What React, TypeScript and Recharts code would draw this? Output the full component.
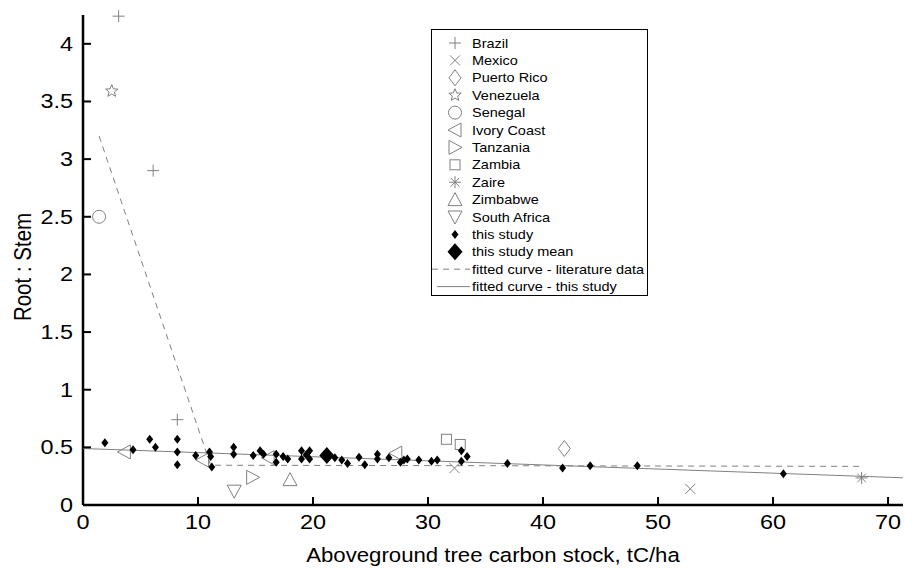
import React from "react";
import { ScatterChart, Scatter, XAxis, YAxis, Legend, Label } from "recharts";

// literature data (root:stem vs aboveground carbon)
const brazil = [
  { x: 3.1, y: 4.24 },
  { x: 6.1, y: 2.9 },
  { x: 8.2, y: 0.74 },
];
const mexico = [
  { x: 32.3, y: 0.32 },
  { x: 52.8, y: 0.14 },
];
const puertoRico = [{ x: 41.85, y: 0.49 }];
const venezuela = [{ x: 2.5, y: 3.59 }];
const senegal = [{ x: 1.4, y: 2.5 }];
const ivoryCoast = [
  { x: 3.6, y: 0.46 },
  { x: 10.4, y: 0.39 },
  { x: 16.1, y: 0.41 },
  { x: 27.2, y: 0.45 },
];
const tanzania = [{ x: 14.75, y: 0.24 }];
const zambia = [
  { x: 31.6, y: 0.57 },
  { x: 32.8, y: 0.525 },
];
const zaire = [{ x: 67.7, y: 0.235 }];
const zimbabwe = [{ x: 18.0, y: 0.22 }];
const southAfrica = [{ x: 13.15, y: 0.12 }];

// this study
const thisStudy = [
  { x: 1.9, y: 0.54 }, { x: 4.35, y: 0.48 }, { x: 5.8, y: 0.57 }, { x: 6.3, y: 0.5 },
  { x: 8.2, y: 0.57 }, { x: 8.2, y: 0.46 }, { x: 8.2, y: 0.35 }, { x: 9.8, y: 0.43 },
  { x: 11.0, y: 0.46 }, { x: 11.1, y: 0.42 }, { x: 11.2, y: 0.33 }, { x: 13.1, y: 0.5 },
  { x: 13.1, y: 0.44 }, { x: 14.8, y: 0.43 }, { x: 15.4, y: 0.47 }, { x: 15.7, y: 0.44 },
  { x: 16.8, y: 0.44 }, { x: 16.8, y: 0.37 }, { x: 17.4, y: 0.42 }, { x: 17.8, y: 0.4 },
  { x: 19.0, y: 0.47 }, { x: 19.7, y: 0.47 }, { x: 19.0, y: 0.4 }, { x: 19.7, y: 0.4 },
  { x: 19.4, y: 0.435 }, { x: 21.9, y: 0.41 }, { x: 22.5, y: 0.39 }, { x: 23.0, y: 0.36 },
  { x: 24.0, y: 0.415 }, { x: 24.5, y: 0.35 }, { x: 25.6, y: 0.44 }, { x: 25.6, y: 0.4 },
  { x: 26.6, y: 0.41 }, { x: 27.6, y: 0.37 }, { x: 27.9, y: 0.39 }, { x: 28.2, y: 0.4 },
  { x: 29.2, y: 0.39 }, { x: 30.3, y: 0.38 }, { x: 30.8, y: 0.39 }, { x: 32.9, y: 0.47 },
  { x: 33.4, y: 0.42 }, { x: 32.9, y: 0.38 }, { x: 36.9, y: 0.36 }, { x: 41.7, y: 0.32 },
  { x: 44.1, y: 0.34 }, { x: 48.2, y: 0.34 }, { x: 60.9, y: 0.27 },
];
const thisStudyMean = [{ x: 21.2, y: 0.43 }];

// fitted curves
const literatureFit = [
  { x: 1.4, y: 3.2 },
  { x: 11.1, y: 0.345 },
  { x: 67.6, y: 0.335 },
];
const studyFit = [
  { x: 0, y: 0.49 },
  { x: 71.3, y: 0.236 },
];

const xTicks = [0, 10, 20, 30, 40, 50, 60, 70];
const yTicks = [0, 0.5, 1, 1.5, 2, 2.5, 3, 3.5, 4];

const GREY = "#808080";
const FONT = "'Liberation Sans', Arial, Helvetica, sans-serif";
const SX = 1.15; // original figure is stretched horizontally
const TICK_SX = 1.2;

const marker = (kind: string, cx: number, cy: number) => {
  const g = { fill: "none", stroke: GREY, strokeWidth: 1 };
  switch (kind) {
    case "plus":
      return <path d={`M${cx - 6},${cy}H${cx + 6}M${cx},${cy - 6}V${cy + 6}`} {...g} />;
    case "cross":
      return <path d={`M${cx - 5},${cy - 5}L${cx + 5},${cy + 5}M${cx - 5},${cy + 5}L${cx + 5},${cy - 5}`} {...g} />;
    case "diamond":
      return <path d={`M${cx},${cy - 8}L${cx + 6},${cy}L${cx},${cy + 8}L${cx - 6},${cy}Z`} {...g} />;
    case "star": {
      const pts: string[] = [];
      for (let i = 0; i < 10; i++) {
        const r = i % 2 === 0 ? 6.5 : 2.8;
        const a = -Math.PI / 2 + (i * Math.PI) / 5;
        pts.push(`${cx + r * Math.cos(a)},${cy + r * Math.sin(a)}`);
      }
      return <polygon points={pts.join(" ")} {...g} />;
    }
    case "circle":
      return <circle cx={cx} cy={cy} r={6.5} {...g} />;
    case "triLeft":
      return <path d={`M${cx - 7},${cy}L${cx + 6},${cy - 7}L${cx + 6},${cy + 7}Z`} {...g} />;
    case "triRight":
      return <path d={`M${cx + 7},${cy}L${cx - 6},${cy - 7}L${cx - 6},${cy + 7}Z`} {...g} />;
    case "square":
      return <rect x={cx - 5} y={cy - 5} width={10} height={10} {...g} />;
    case "asterisk":
      return (
        <path
          d={`M${cx - 6},${cy}H${cx + 6}M${cx},${cy - 6}V${cy + 6}M${cx - 4.3},${cy - 4.3}L${cx + 4.3},${cy + 4.3}M${cx - 4.3},${cy + 4.3}L${cx + 4.3},${cy - 4.3}`}
          {...g}
        />
      );
    case "triUp":
      return <path d={`M${cx},${cy - 7}L${cx + 7},${cy + 6}L${cx - 7},${cy + 6}Z`} {...g} />;
    case "triDown":
      return <path d={`M${cx},${cy + 7}L${cx + 7},${cy - 6}L${cx - 7},${cy - 6}Z`} {...g} />;
    case "dot":
      return <path d={`M${cx},${cy - 4.5}L${cx + 3.5},${cy}L${cx},${cy + 4.5}L${cx - 3.5},${cy}Z`} fill="#000" />;
    case "mean":
      return <path d={`M${cx},${cy - 8.5}L${cx + 7.5},${cy}L${cx},${cy + 8.5}L${cx - 7.5},${cy}Z`} fill="#000" />;
    default:
      return <g />;
  }
};

const series = [
  { name: "Brazil", data: brazil, kind: "plus" },
  { name: "Mexico", data: mexico, kind: "cross" },
  { name: "Puerto Rico", data: puertoRico, kind: "diamond" },
  { name: "Venezuela", data: venezuela, kind: "star" },
  { name: "Senegal", data: senegal, kind: "circle" },
  { name: "Ivory Coast", data: ivoryCoast, kind: "triLeft" },
  { name: "Tanzania", data: tanzania, kind: "triRight" },
  { name: "Zambia", data: zambia, kind: "square" },
  { name: "Zaire", data: zaire, kind: "asterisk" },
  { name: "Zimbabwe", data: zimbabwe, kind: "triUp" },
  { name: "South Africa", data: southAfrica, kind: "triDown" },
  { name: "this study", data: thisStudy, kind: "dot" },
  { name: "this study mean", data: thisStudyMean, kind: "mean" },
];

const lines = [
  { name: "fitted curve - literature data", data: literatureFit, dash: "6 5" },
  { name: "fitted curve - this study", data: studyFit, dash: undefined },
];

const XTick = (props: any) => {
  const { x, y, payload } = props;
  return (
    <g>
      <line x1={x} x2={x} y1={y} y2={y - 8} stroke="#000" strokeWidth={2} />
      <text
        transform={`translate(${x},${y + 24}) scale(${TICK_SX},1)`}
        textAnchor="middle"
        fontFamily={FONT}
        fontSize={19.5}
        fill="#000"
      >
        {payload.value}
      </text>
    </g>
  );
};

const YTick = (props: any) => {
  const { x, y, payload } = props;
  return (
    <g>
      <line x1={x} x2={x + 8} y1={y} y2={y} stroke="#000" strokeWidth={2} />
      <text
        transform={`translate(${x - 10},${y + 7}) scale(${TICK_SX},1)`}
        textAnchor="end"
        fontFamily={FONT}
        fontSize={19.5}
        fill="#000"
      >
        {payload.value}
      </text>
    </g>
  );
};

const LegendBox = () => {
  const rowH = 17.4;
  return (
    <svg width={217} height={267} style={{ display: "block" }}>
      <rect x={0.5} y={0.5} width={216} height={266} fill="#fff" stroke="#000" strokeWidth={1} />
      {series.map((s, i) => {
        const cy = 14 + i * rowH;
        return (
          <g key={s.name}>
            {marker(s.kind, 24, cy)}
            <text
              transform={`translate(41,${cy + 4.5}) scale(${SX},1)`}
              fontFamily={FONT}
              fontSize={12.6}
              fill="#000"
            >
              {s.name}
            </text>
          </g>
        );
      })}
      {lines.map((l, j) => {
        const cy = 14 + (series.length + j) * rowH;
        return (
          <g key={l.name}>
            <line
              x1={l.dash ? 1 : 6}
              x2={39}
              y1={cy}
              y2={cy}
              stroke={GREY}
              strokeWidth={1}
              strokeDasharray={l.dash}
            />
            <text
              transform={`translate(41,${cy + 4.5}) scale(${SX},1)`}
              fontFamily={FONT}
              fontSize={12.6}
              fill="#000"
            >
              {l.name}
            </text>
          </g>
        );
      })}
    </svg>
  );
};

export default function App() {
  return (
    <div style={{ position: "absolute", left: 0, top: 0, background: "#fff" }}>
      <ScatterChart width={905} height={569} margin={{ top: 15, right: 2, bottom: 0, left: 0 }}>
        <XAxis
          type="number"
          dataKey="x"
          domain={[0, 71.3]}
          ticks={xTicks}
          height={64}
          tickSize={0}
          tickMargin={0}
          tickLine={false}
          axisLine={{ stroke: "#000", strokeWidth: 2.5 }}
          tick={(p: any) => <XTick {...p} />}
        >
          <Label
            content={(p: any) => {
              const vb = p.viewBox;
              return (
                <text
                  transform={`translate(${vb.x + vb.width / 2},${vb.y + 57}) scale(${SX},1)`}
                  textAnchor="middle"
                  fontFamily={FONT}
                  fontSize={19.3}
                  fill="#000"
                >
                  Aboveground tree carbon stock, tC/ha
                </text>
              );
            }}
          />
        </XAxis>
        <YAxis
          type="number"
          dataKey="y"
          domain={[0, 4.25]}
          ticks={yTicks}
          width={83}
          tickSize={0}
          tickMargin={0}
          tickLine={false}
          axisLine={{ stroke: "#000", strokeWidth: 2.5 }}
          tick={(p: any) => <YTick {...p} />}
        >
          <Label
            content={() => (
              <text
                transform={`translate(31,267) scale(${SX},1) rotate(-90)`}
                textAnchor="middle"
                fontFamily={FONT}
                fontSize={20.5}
                fill="#000"
              >
                Root : Stem
              </text>
            )}
          />
        </YAxis>
        <Legend
          layout="vertical"
          align="center"
          verticalAlign="middle"
          content={() => <LegendBox />}
          wrapperStyle={{ left: 431, top: 29, width: 217, height: 267 }}
        />
        {lines.map((l) => (
          <Scatter
            key={l.name}
            name={l.name}
            data={l.data}
            line={{ stroke: GREY, strokeWidth: 1, strokeDasharray: l.dash }}
            shape={() => <g />}
            isAnimationActive={false}
          />
        ))}
        {series.map((s) => (
          <Scatter
            key={s.name}
            name={s.name}
            data={s.data}
            shape={(p: any) => marker(s.kind, p.cx, p.cy)}
            isAnimationActive={false}
          />
        ))}
      </ScatterChart>
    </div>
  );
}
